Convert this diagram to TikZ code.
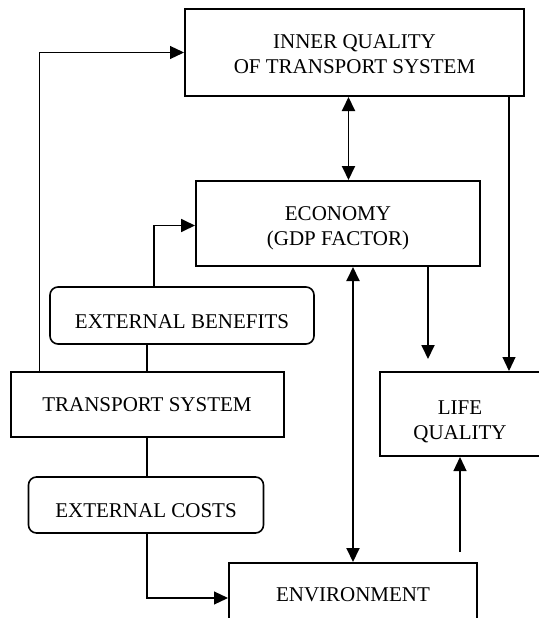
\documentclass[tikz,border=0pt]{standalone}
\usepackage{fontspec}
\setmainfont{Liberation Serif}
\usetikzlibrary{
	arrows.meta,
	calc,
	positioning
}

\begin{document}
\begin{tikzpicture}[x=1pt, y=-1pt,
	>={Triangle[length=14pt, width=13pt]},
	every node/.style={font=\fontsize{21}{25}\selectfont, align=center, inner sep=0pt},
	block/.style={draw, line width=2pt},
	tag/.style={draw, line width=1.6pt, rounded corners=8pt, text height=25pt, text depth=0pt},
	plain/.style={line width=1.2pt},
	link/.style={line width=1.2pt, ->},
	heavy/.style={line width=1.8pt, ->},
	both/.style={line width=1.9pt, <->}
]
	\useasboundingbox (0,0) rectangle (538,618);
	% boxes
	\node[block, minimum width=339pt, minimum height=87pt, text height=41.6pt, text depth=0pt] (inner) at (354.5,52.5) {INNER QUALITY\\OF TRANSPORT SYSTEM};
	\node[block, minimum width=284pt, minimum height=85pt, text height=44.6pt, text depth=0pt] (economy) at (338,223.5) {ECONOMY\\(GDP FACTOR)};
	\node[tag, minimum width=264pt, minimum height=57pt] (benefits) at (182,315.5) {EXTERNAL BENEFITS};
	\node[block, minimum width=273pt, minimum height=65pt] (transport) at (147,404.5) {TRANSPORT SYSTEM};
	\node[block, minimum width=160pt, minimum height=84pt, text height=51pt, text depth=0pt] (life) at (460,414) {LIFE\\QUALITY};
	\node[tag, minimum width=235pt, minimum height=56pt] (costs) at (146,505) {EXTERNAL COSTS};
	\node[block, minimum width=248pt, minimum height=63pt] (environment) at (353,594.5) {ENVIRONMENT};
	% helper points for the vertical links
	\coordinate (up) at ($(transport.north west)+(30,0)$);
	\coordinate (gain) at ($(benefits.north)+(-28,0)$);
	\coordinate (mid) at ($(inner.south)+(-6,0)$);
	\coordinate (drop) at ($(life.north)+(-32,-12)$);
	\coordinate (side) at ($(inner.south east)+(-16,0)$);
	\coordinate (rise) at ($(life.south |- environment.north)+(0,-10)$);
	% links
	\draw[link] (up) |- (inner.west);
	\draw[heavy] (gain) |- ([yshift=-2]economy.west);
	\draw[plain] (transport.north) -- (transport.north |- benefits.south);
	\draw[plain] (transport.south) -- (transport.south |- costs.north);
	\draw[link] (transport.south |- costs.south) |- ([yshift=-3.5]environment.west);
	\draw[both] (mid) -- (economy.north -| mid);
	\draw[both] (environment.north) -- (environment.north |- economy.south);
	\draw[heavy] (economy.south -| drop) -- (drop);
	\draw[link] (side) -- (side |- life.north);
	\draw[link] (rise) -- (life.south);
\end{tikzpicture}
\end{document}
